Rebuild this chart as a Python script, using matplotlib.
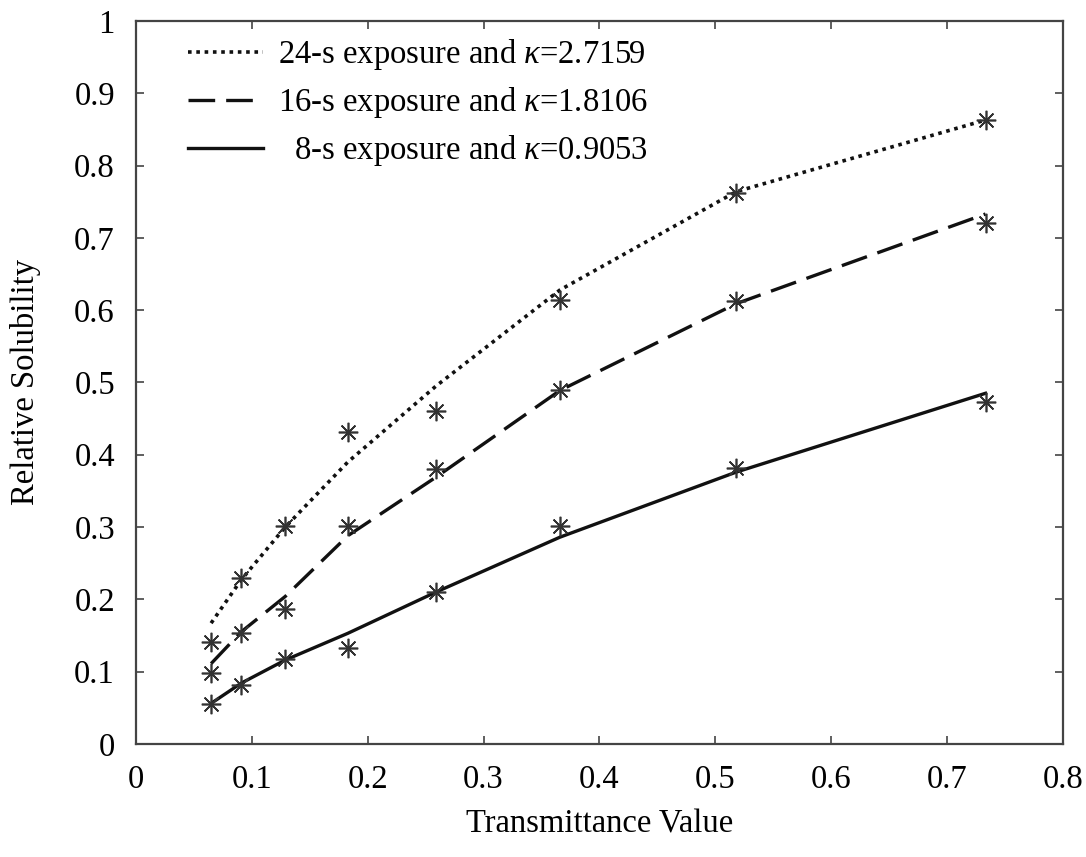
import matplotlib
matplotlib.use("Agg")
import matplotlib.pyplot as plt
import numpy as np

# transmittance values (x) shared by all series
transmittance = [0.065, 0.091, 0.129, 0.183, 0.259, 0.366, 0.518, 0.733]

# model curves
fit_24s = [0.167, 0.227, 0.300, 0.390, 0.495, 0.628, 0.764, 0.863]
fit_16s = [0.111, 0.155, 0.204, 0.288, 0.369, 0.489, 0.609, 0.733]
fit_8s = [0.056, 0.084, 0.116, 0.153, 0.210, 0.286, 0.376, 0.485]

# measured points
meas_24s = [0.141, 0.229, 0.302, 0.431, 0.461, 0.614, 0.762, 0.863]
meas_16s = [0.098, 0.153, 0.187, 0.302, 0.380, 0.489, 0.612, 0.720]
meas_8s = [0.055, 0.082, 0.118, 0.132, 0.210, 0.302, 0.381, 0.473]

labels = [
    r"24-s exposure and $\kappa$=2.7159",
    r"16-s exposure and $\kappa$=1.8106",
    r"  8-s exposure and $\kappa$=0.9053",
]

x_ticks = [0, 0.1, 0.2, 0.3, 0.4, 0.5, 0.6, 0.7, 0.8]
x_tick_labels = ["0", "0.1", "0.2", "0.3", "0.4", "0.5", "0.6", "0.7", "0.8"]
y_ticks = [0, 0.1, 0.2, 0.3, 0.4, 0.5, 0.6, 0.7, 0.8, 0.9, 1.0]
y_tick_labels = ["0", "0.1", "0.2", "0.3", "0.4", "0.5", "0.6", "0.7", "0.8", "0.9", "1"]

plt.rcParams["font.family"] = ["Liberation Serif", "DejaVu Serif"]
plt.rcParams["mathtext.fontset"] = "custom"
plt.rcParams["mathtext.rm"] = "Liberation Serif"
plt.rcParams["mathtext.it"] = "Liberation Serif:italic"

FS = 23.5
INK = "#111111"
STAR = "#333333"


def main():
    fig = plt.figure(figsize=(10.86, 8.57), dpi=100)
    ax = fig.add_axes([0.125, 0.132, 0.854, 0.8435])

    x = np.array(transmittance)
    l1, = ax.plot(x, fit_24s, linestyle=(0, (1.0, 1.3)), color=INK, lw=2.6)
    l2, = ax.plot(x, fit_16s, linestyle=(0, (8, 3.3)), color=INK, lw=2.4)
    l3, = ax.plot(x, fit_8s, linestyle="-", color=INK, lw=2.4)

    for meas in (meas_24s, meas_16s, meas_8s):
        ax.plot(x, meas, linestyle="none", marker=(8, 2, 0), markersize=14,
                markeredgewidth=1.2, color=STAR)

    ax.set_xlim(0, 0.8)
    ax.set_ylim(0, 1)
    ax.set_xticks(x_ticks)
    ax.set_xticklabels(x_tick_labels)
    ax.set_yticks(y_ticks)
    ax.set_yticklabels(y_tick_labels)
    ax.tick_params(direction="in", length=6, width=1.2, colors="#444444",
                   labelcolor="black", labelsize=FS, top=True, right=True)
    ax.tick_params(axis="x", pad=15)
    ax.tick_params(axis="y", pad=15)
    for s in ax.spines.values():
        s.set_color("#444444")
        s.set_linewidth(1.6)

    ax.set_xlabel("Transmittance Value", fontsize=FS, labelpad=10)
    ax.set_ylabel("Relative Solubility", fontsize=FS, labelpad=24)

    leg_handles = [l1, l2, l3]
    ax.legend(leg_handles, labels, loc="upper left", frameon=False,
              fontsize=FS, handlelength=2.3, handletextpad=0.45,
              labelspacing=0.4, borderaxespad=0.2,
              bbox_to_anchor=(0.035, 1.005))

    fig.savefig("out.png", dpi=100)
    plt.close(fig)


if __name__ == "__main__":
    main()
